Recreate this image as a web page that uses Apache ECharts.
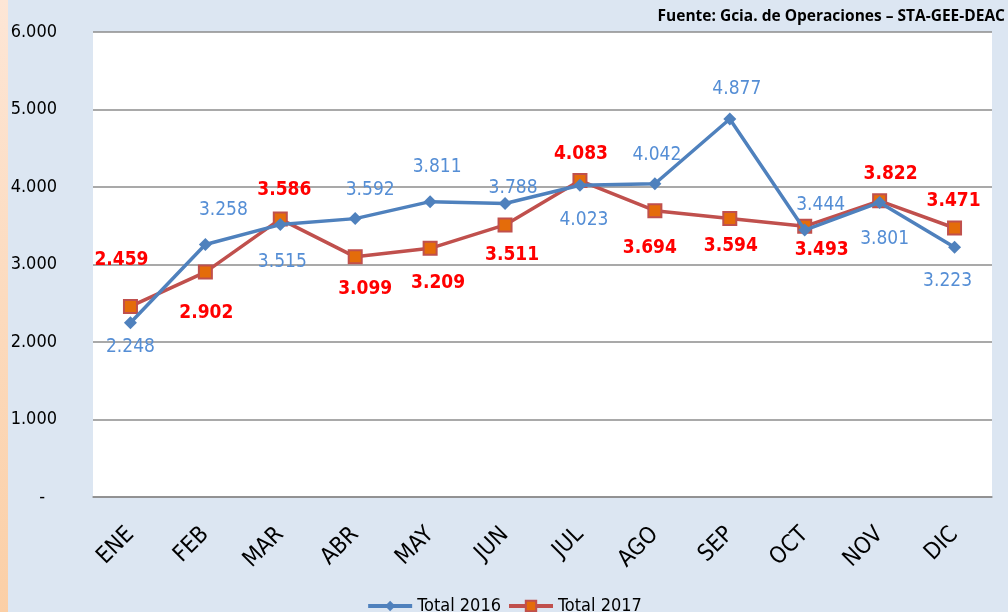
<!DOCTYPE html>
<html><head><meta charset="utf-8">
<script src="https://cdn.jsdelivr.net/npm/echarts@6/dist/echarts.min.js"></script>
<style>html,body{margin:0;padding:0;background:#dce6f2;}#c{width:1008px;height:612px;}</style>
</head><body><div id="c"></div>
<script>
const categories = ['ENE','FEB','MAR','ABR','MAY','JUN','JUL','AGO','SEP','OCT','NOV','DIC'];
const total2016 = [2248,3258,3515,3592,3811,3788,4023,4042,4877,3444,3801,3223];
const total2017 = [2459,2902,3586,3099,3209,3511,4083,3694,3594,3493,3822,3471];
// label offsets (dx, dy) from each point
const off2016 = [[0,24],[18,-34],[2,37],[15,-29],[7,-35],[8,-15],[4,35],[2,-29],[7,-30],[16,-25],[5,37],[-7,34]];
const off2017 = [[-9,-46],[1,41],[4,-29],[10,32],[8,35],[7,30],[1,-27],[-5,37],[1,28],[17,24],[11,-27],[-1,-27]];

function fmt(v){ return String(v).replace(/\B(?=(\d{3})+(?!\d))/g,'.'); }
const FONT = "'Liberation Sans Narrow','DejaVu Sans Condensed','Liberation Sans',sans-serif";

const chart = echarts.init(document.getElementById('c'), null, {renderer:'canvas'});
chart.setOption({
  backgroundColor:'#dce6f2',
  animation:false,
  graphic:[
    {type:'rect', left:0, top:0, shape:{width:8,height:612},
     style:{fill:new echarts.graphic.LinearGradient(0,0,0,1,[{offset:0,color:'#fde6d6'},{offset:1,color:'#fbcfa6'}])}},
    {type:'text', right:3, top:9, style:{text:'Fuente: Gcia. de Operaciones – STA-GEE-DEAC', font:"bold 15.5px 'Open Sans', 'Liberation Sans', sans-serif", fill:'#000'}}
  ],
  grid:{left:93, right:16, top:32, bottom:115, show:true, backgroundColor:'#ffffff', borderWidth:0},
  legend:{
    top:592, left:'center', itemWidth:44, itemHeight:13, itemGap:6,
    lineStyle:{width:4},
    textStyle:{fontFamily:FONT, fontSize:18, color:'#000'},
    data:['Total 2016','Total 2017']
  },
  xAxis:{
    type:'category', data:categories, boundaryGap:true,
    axisLine:{lineStyle:{color:'#8c8c8c', width:1.5}},
    axisTick:{show:false},
    axisLabel:{rotate:45, fontFamily:FONT, fontSize:23, color:'#000', margin:34}
  },
  yAxis:{
    type:'value', min:0, max:6000, interval:1000,
    axisLine:{show:false}, axisTick:{show:false},
    splitLine:{lineStyle:{color:'#8c8c8c', width:1.5}},
    axisLabel:{fontFamily:FONT, fontSize:18, color:'#000', margin:36,
      formatter:function(v){ return v===0 ? '{d|-}' : fmt(v); },
      rich:{d:{fontFamily:FONT, fontSize:18, color:'#000', padding:[0,12,0,0]}}}
  },
  series:[
    {name:'Total 2016', type:'line', symbol:'diamond', symbolSize:13,
     itemStyle:{color:'#4f81bd'}, lineStyle:{color:'#4f81bd', width:3.5},
     data: total2016.map((v,i)=>({value:v, label:{offset:off2016[i]}})),
     label:{show:true, position:'inside', fontFamily:FONT, fontSize:19, color:'#558ed5', formatter:p=>fmt(p.value)},
     z:3},
    {name:'Total 2017', type:'line', symbol:'rect', symbolSize:13,
     itemStyle:{color:'#e46c0a', borderColor:'#c0504d', borderWidth:2}, lineStyle:{color:'#c0504d', width:3.5},
     data: total2017.map((v,i)=>({value:v, label:{offset:off2017[i]}})),
     label:{show:true, position:'inside', fontFamily:FONT, fontSize:19, fontWeight:'bold', color:'#ff0000', formatter:p=>fmt(p.value)},
     z:2}
  ]
});
</script></body></html>
